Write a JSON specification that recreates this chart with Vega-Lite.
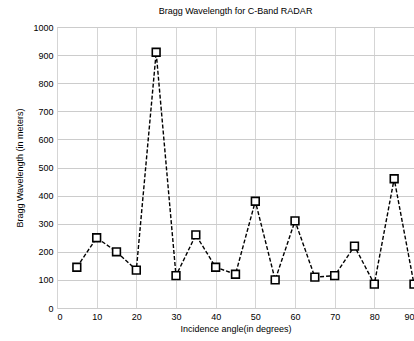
{
  "$schema": "https://vega.github.io/schema/vega-lite/v6.json",
  "autosize": "none",
  "padding": {"left": 57, "top": 27, "right": 0, "bottom": 33},
  "width": 357,
  "height": 281,
  "background": "white",
  "title": {"text": "Bragg Wavelength for C-Band RADAR", "fontSize": 9, "font": "Liberation Sans", "fontWeight": "normal", "color": "#000", "offset": 7},
  "data": {"values": [
    {"angle": 5, "wl": 145}, {"angle": 10, "wl": 250}, {"angle": 15, "wl": 200},
    {"angle": 20, "wl": 135}, {"angle": 25, "wl": 910}, {"angle": 30, "wl": 115},
    {"angle": 35, "wl": 260}, {"angle": 40, "wl": 145}, {"angle": 45, "wl": 120},
    {"angle": 50, "wl": 380}, {"angle": 55, "wl": 100}, {"angle": 60, "wl": 310},
    {"angle": 65, "wl": 110}, {"angle": 70, "wl": 115}, {"angle": 75, "wl": 220},
    {"angle": 80, "wl": 85}, {"angle": 85, "wl": 460}, {"angle": 90, "wl": 85}
  ]},
  "config": {
    "view": {"stroke": null},
    "axis": {"labelFont": "Liberation Sans", "titleFont": "Liberation Sans", "labelFontSize": 9, "titleFontSize": 9, "titleFontWeight": "normal", "labelColor": "#000", "titleColor": "#000", "domain": false, "ticks": false}
  },
  "encoding": {
    "x": {"field": "angle", "type": "quantitative", "scale": {"domain": [0, 90], "nice": false},
      "axis": {"values": [0,10,20,30,40,50,60,70,80,90], "format": "d", "title": "Incidence angle(in degrees)", "grid": true, "gridDash": [1, 1], "gridColor": "#aaa", "labelPadding": 4, "titlePadding": 3}},
    "y": {"field": "wl", "type": "quantitative", "scale": {"domain": [0, 1000], "nice": false},
      "axis": {"values": [0,100,200,300,400,500,600,700,800,900,1000], "format": "d", "title": "Bragg Wavelength (in meters)", "grid": true, "gridColor": "#ccc", "labelPadding": 4, "titlePadding": 8}}
  },
  "layer": [
    {"mark": {"type": "line", "color": "black", "strokeDash": [4, 2], "strokeWidth": 1.4}},
    {"mark": {"type": "point", "shape": "square", "filled": true, "fill": "white", "stroke": "black", "strokeWidth": 1.6, "size": 60, "opacity": 1}}
  ]
}
